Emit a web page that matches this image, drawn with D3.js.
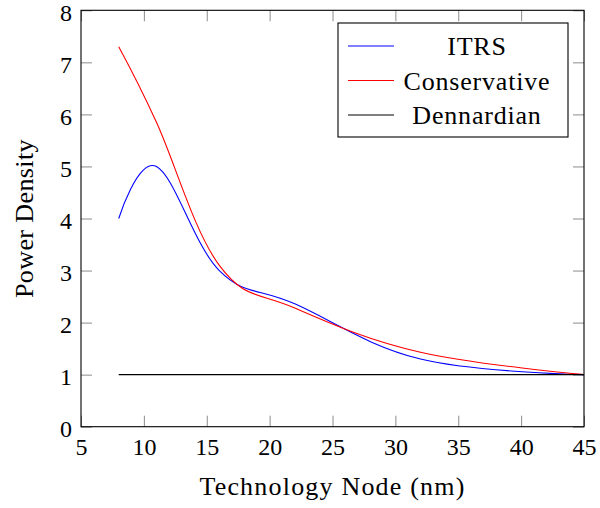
<!DOCTYPE html>
<html>
<head>
<meta charset="utf-8">
<script src="https://cdn.jsdelivr.net/npm/d3@7"></script>
<style>
  body { margin: 0; background: #fff; }
  text { font-family: "Liberation Serif", "DejaVu Serif", serif; fill: #000; }
</style>
</head>
<body>
<svg id="chart" width="600" height="508"></svg>
<script>
// technology nodes and power density values
const nodes = [8, 11, 16, 22, 32, 45];
const itrs = [4.0, 5.0, 3.0, 2.36, 1.3, 1.0];
const conservative = [7.3, 5.85, 3.1, 2.28, 1.43, 1.0];
const dennardian = [1, 1, 1, 1, 1, 1];
const xTicks = [5, 10, 15, 20, 25, 30, 35, 40, 45];
const yTicks = [0, 1, 2, 3, 4, 5, 6, 7, 8];
const seriesNames = ["ITRS", "Conservative", "Dennardian"];
const seriesColors = ["#0000ff", "#ff0000", "#000000"];

const svg = d3.select("#chart"),
    margin = { top: 10.3, right: 16, bottom: 81.3, left: 81 },
    width = +svg.attr("width") - margin.left - margin.right,
    height = +svg.attr("height") - margin.top - margin.bottom;

const g = svg.append("g")
    .attr("transform", "translate(" + margin.left + "," + margin.top + ")");

const xScale = d3.scaleLinear().domain([5, 45]).range([0, width]);
const yScale = d3.scaleLinear().domain([0, 8]).range([height, 0]);

const tickLen = 11;
const tickColor = "#8c8c8c";

// ticks on all four sides, pointing inward
const axB = g.append("g").attr("transform", "translate(0," + height + ")")
    .call(d3.axisBottom(xScale).tickValues(xTicks).tickSize(-tickLen));
const axT = g.append("g")
    .call(d3.axisTop(xScale).tickValues(xTicks).tickSize(-tickLen).tickFormat(""));
const axL = g.append("g")
    .call(d3.axisLeft(yScale).tickValues(yTicks).tickSize(-tickLen).tickPadding(9));
const axR = g.append("g").attr("transform", "translate(" + width + ",0)")
    .call(d3.axisRight(yScale).tickValues(yTicks).tickSize(-tickLen).tickFormat(""));

[axB, axT, axL, axR].forEach(a => {
    a.select(".domain").remove();
    a.selectAll(".tick line").attr("stroke", tickColor).attr("stroke-width", 1);
    a.selectAll("text").style("font-size", "24px").style("font-family", "Liberation Serif, serif");
});
axB.selectAll("text").attr("dy", null).attr("y", 28);
axL.selectAll("text").attr("dy", "0.42em");

const seriesData = [itrs, conservative, dennardian];
const line = d3.line()
    .x((d, i) => xScale(nodes[i]))
    .y(d => yScale(d))
    .curve(d3.curveCardinal.tension(-0.1));

g.selectAll(".series")
    .data(seriesData)
    .enter()
    .append("path")
    .attr("class", "series")
    .attr("d", d => line(d))
    .attr("fill", "none")
    .attr("stroke", (d, i) => seriesColors[i])
    .attr("stroke-width", 1.1);

// frame
g.append("rect")
    .attr("x", 0).attr("y", 0)
    .attr("width", width).attr("height", height)
    .attr("fill", "none").attr("stroke", "#000").attr("stroke-width", 1.1);

// legend
const legend = g.append("g").attr("transform", "translate(" + (338 - margin.left) + "," + (23 - margin.top) + ")");
legend.append("rect")
    .attr("width", 230).attr("height", 114)
    .attr("fill", "#fff").attr("stroke", "#000").attr("stroke-width", 1.1);
const rows = legend.selectAll(".row")
    .data(seriesNames)
    .enter()
    .append("g")
    .attr("transform", (d, i) => "translate(0," + (23 + i * 34.5) + ")");
rows.append("line")
    .attr("x1", 10).attr("x2", 56)
    .attr("stroke", (d, i) => seriesColors[i])
    .attr("stroke-width", 1.1);
rows.append("text")
    .attr("x", 139).attr("y", 9)
    .attr("text-anchor", "middle")
    .style("font-size", "26px")
    .style("letter-spacing", "0.8px")
    .text(d => d);

// axis titles
svg.append("text")
    .attr("x", margin.left + width / 2).attr("y", 495)
    .attr("text-anchor", "middle")
    .style("font-size", "26px")
    .style("letter-spacing", "1.2px")
    .text("Technology Node (nm)");

svg.append("text")
    .attr("transform", "translate(33," + (margin.top + height / 2) + ") rotate(-90)")
    .attr("text-anchor", "middle")
    .style("font-size", "26px")
    .style("letter-spacing", "0.4px")
    .text("Power Density");
</script>
</body>
</html>
